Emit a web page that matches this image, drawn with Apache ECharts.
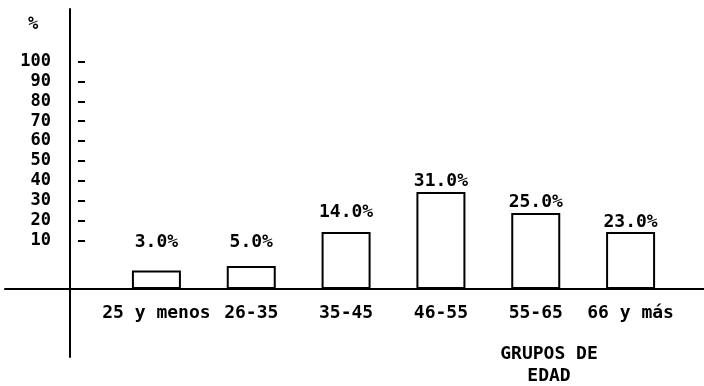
<!DOCTYPE html>
<html>
<head>
<meta charset="utf-8">
<script src="https://cdn.jsdelivr.net/npm/echarts@6/dist/echarts.min.js"></script>
<style>
  html, body { margin: 0; background: #fff; }
  #chart { width: 704px; height: 386px; }
</style>
</head>
<body>
<div id="chart"></div>
<script>
// grupos de edad
var categories = ['25 y menos', '26-35', '35-45', '46-55', '55-65', '66 y más']
// percentage printed above each bar
var shares = [3, 5, 14, 31, 25, 23]
// bar heights as drawn, read against the printed tick spacing (0 = baseline)
var barHeights = [9.3, 11.6, 28.7, 48.8, 38.3, 28.7]
var tickLabels = [10, 20, 30, 40, 50, 60, 70, 80, 90, 100]

// the printed scale does not start at the baseline: its "10" sits 24.5 units above it
var TICK_SHIFT = 14.5
var labelGap = [19, 15, 11, 2, 2, 1]
var FONT = 'DejaVu Sans Mono'
var WEIGHT = 'bold'
var INK = '#000'

var tickValues = tickLabels.map(function (t) { return t + TICK_SHIFT })

var chart = echarts.init(document.getElementById('chart'))
chart.setOption({
  backgroundColor: '#fff',
  animation: false,
  title: [{
    text: '%',
    left: 28,
    top: 16,
    padding: 0,
    textStyle: { fontFamily: FONT, fontSize: 17, fontWeight: WEIGHT, color: INK }
  }, {
    text: 'GRUPOS DE\nEDAD',
    left: 549,
    top: 343,
    padding: 0,
    textAlign: 'center',
    textStyle: { fontFamily: FONT, fontSize: 18, fontWeight: WEIGHT, color: INK, lineHeight: 22 }
  }],
  grid: [
    // bars
    { left: 109, right: 26, top: 9, bottom: 97 },
    // long baseline
    { left: 5, right: 0, top: 0, bottom: 97 },
    // long vertical axis
    { left: 70, width: 10, top: 9, bottom: 29 }
  ],
  xAxis: [{
    gridIndex: 0,
    type: 'category',
    data: categories,
    axisLine: { show: false },
    axisTick: { show: false },
    axisLabel: { interval: 0, margin: 15, color: INK, fontFamily: FONT, fontSize: 18, fontWeight: WEIGHT }
  }, {
    gridIndex: 1,
    type: 'value',
    axisLine: { show: true, onZero: false, lineStyle: { color: INK, width: 2 } },
    axisTick: { show: false },
    axisLabel: { show: false },
    splitLine: { show: false }
  }, {
    gridIndex: 2,
    type: 'value',
    show: false
  }],
  yAxis: [{
    gridIndex: 0,
    type: 'value',
    min: 0,
    max: 141,
    offset: 31,
    axisLine: { show: false },
    splitLine: { show: false },
    axisTick: {
      show: true,
      inside: true,
      length: 7,
      customValues: tickValues,
      lineStyle: { color: INK, width: 2 }
    },
    axisLabel: {
      customValues: tickValues,
      margin: 27,
      color: INK,
      fontFamily: FONT,
      fontSize: 17,
      fontWeight: WEIGHT,
      formatter: function (v) { return String(Math.round(v - TICK_SHIFT)) }
    }
  }, {
    gridIndex: 1,
    type: 'value',
    show: false
  }, {
    gridIndex: 2,
    type: 'value',
    axisLine: { show: true, onZero: false, lineStyle: { color: INK, width: 2 } },
    axisTick: { show: false },
    axisLabel: { show: false },
    splitLine: { show: false }
  }],
  series: [{
    type: 'bar',
    xAxisIndex: 0,
    yAxisIndex: 0,
    barWidth: 49,
    data: barHeights.map(function (h, i) {
      return { value: h, label: { distance: labelGap[i] } }
    }),
    itemStyle: { color: '#fff', borderColor: INK, borderWidth: 2 },
    label: {
      show: true,
      position: 'top',
      color: INK,
      fontFamily: FONT,
      fontSize: 18,
      fontWeight: WEIGHT,
      formatter: function (p) { return shares[p.dataIndex].toFixed(1) + '%' }
    }
  }]
})
</script>
</body>
</html>
